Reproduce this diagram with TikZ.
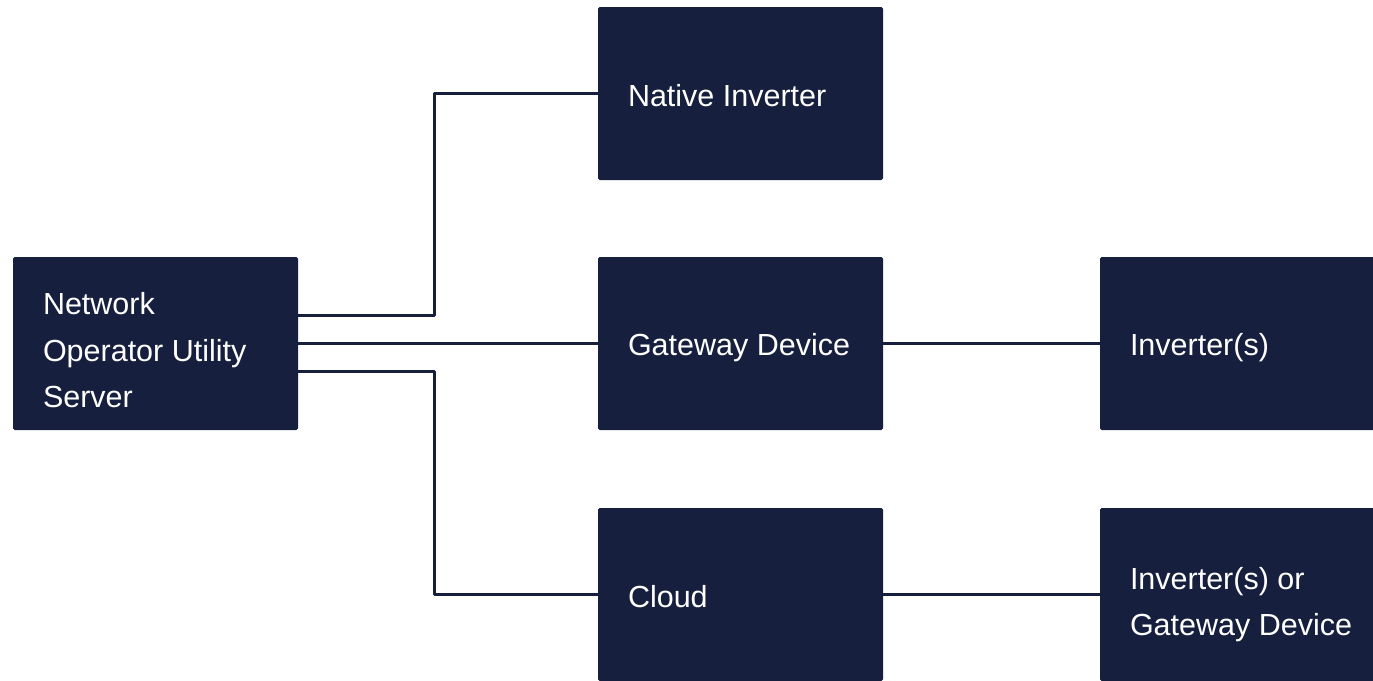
\documentclass[tikz,border=0pt]{standalone}
\usepackage{fontspec}
\setmainfont{Liberation Sans}
\definecolor{navy}{HTML}{161F3D}

\begin{document}
\begin{tikzpicture}[x=0.5pt, y=-0.5pt,
		unit/.style={fill=navy, text=white, rounded corners=0.8pt, minimum width=142.5pt, minimum height=86.5pt, text width=112.5pt, inner xsep=15pt, inner ysep=0pt, align=left,
			font=\fontsize{15.25}{23.25}\selectfont,
			execute at begin node={\hyphenpenalty=10000 \spaceskip=\fontdimen2\font\relax \vrule width 0pt height #1 depth 0pt\relax}, execute at end node={\vrule width 0pt height 0pt depth 3pt\relax}},
		unit/.default=15.5pt,
		link/.style={draw=navy, line width=1.5pt, line join=round}]
	%%%%% START %%%%%
	
	\useasboundingbox (0, 0) rectangle (1373, 681);
	
	\node[unit=20.5pt] (srv) at (155.5, 343.5) {Network\\Operator Utility\\Server};
	
	\node[unit] (nat) at (740.5, 93.5) {Native Inverter};
	\node[unit] (gw) at (740.5, 343.5) {Gateway~Device};
	\node[unit] (cld) at (740.5, 594.5) {Cloud};
	
	\node[unit] (inv) at (1242.5, 343.5) {Inverter(s)};
	\node[unit=21pt] (invgw) at (1242.5, 594.5) {Inverter(s) or\\Gateway~Device};
	
	\coordinate (fork) at (434, 343.5);
	
	\draw[link] ([yshift=14pt]srv.east) -| (fork |- nat.west) -- (nat.west);
	\draw[link] (srv.east) -- (gw.west);
	\draw[link] ([yshift=-14pt]srv.east) -| (fork |- cld.west) -- (cld.west);
	
	\draw[link] (gw.east) -- (inv.west);
	\draw[link] (cld.east) -- (invgw.west);
	
	%%%%% END %%%%%
\end{tikzpicture}
\end{document}
